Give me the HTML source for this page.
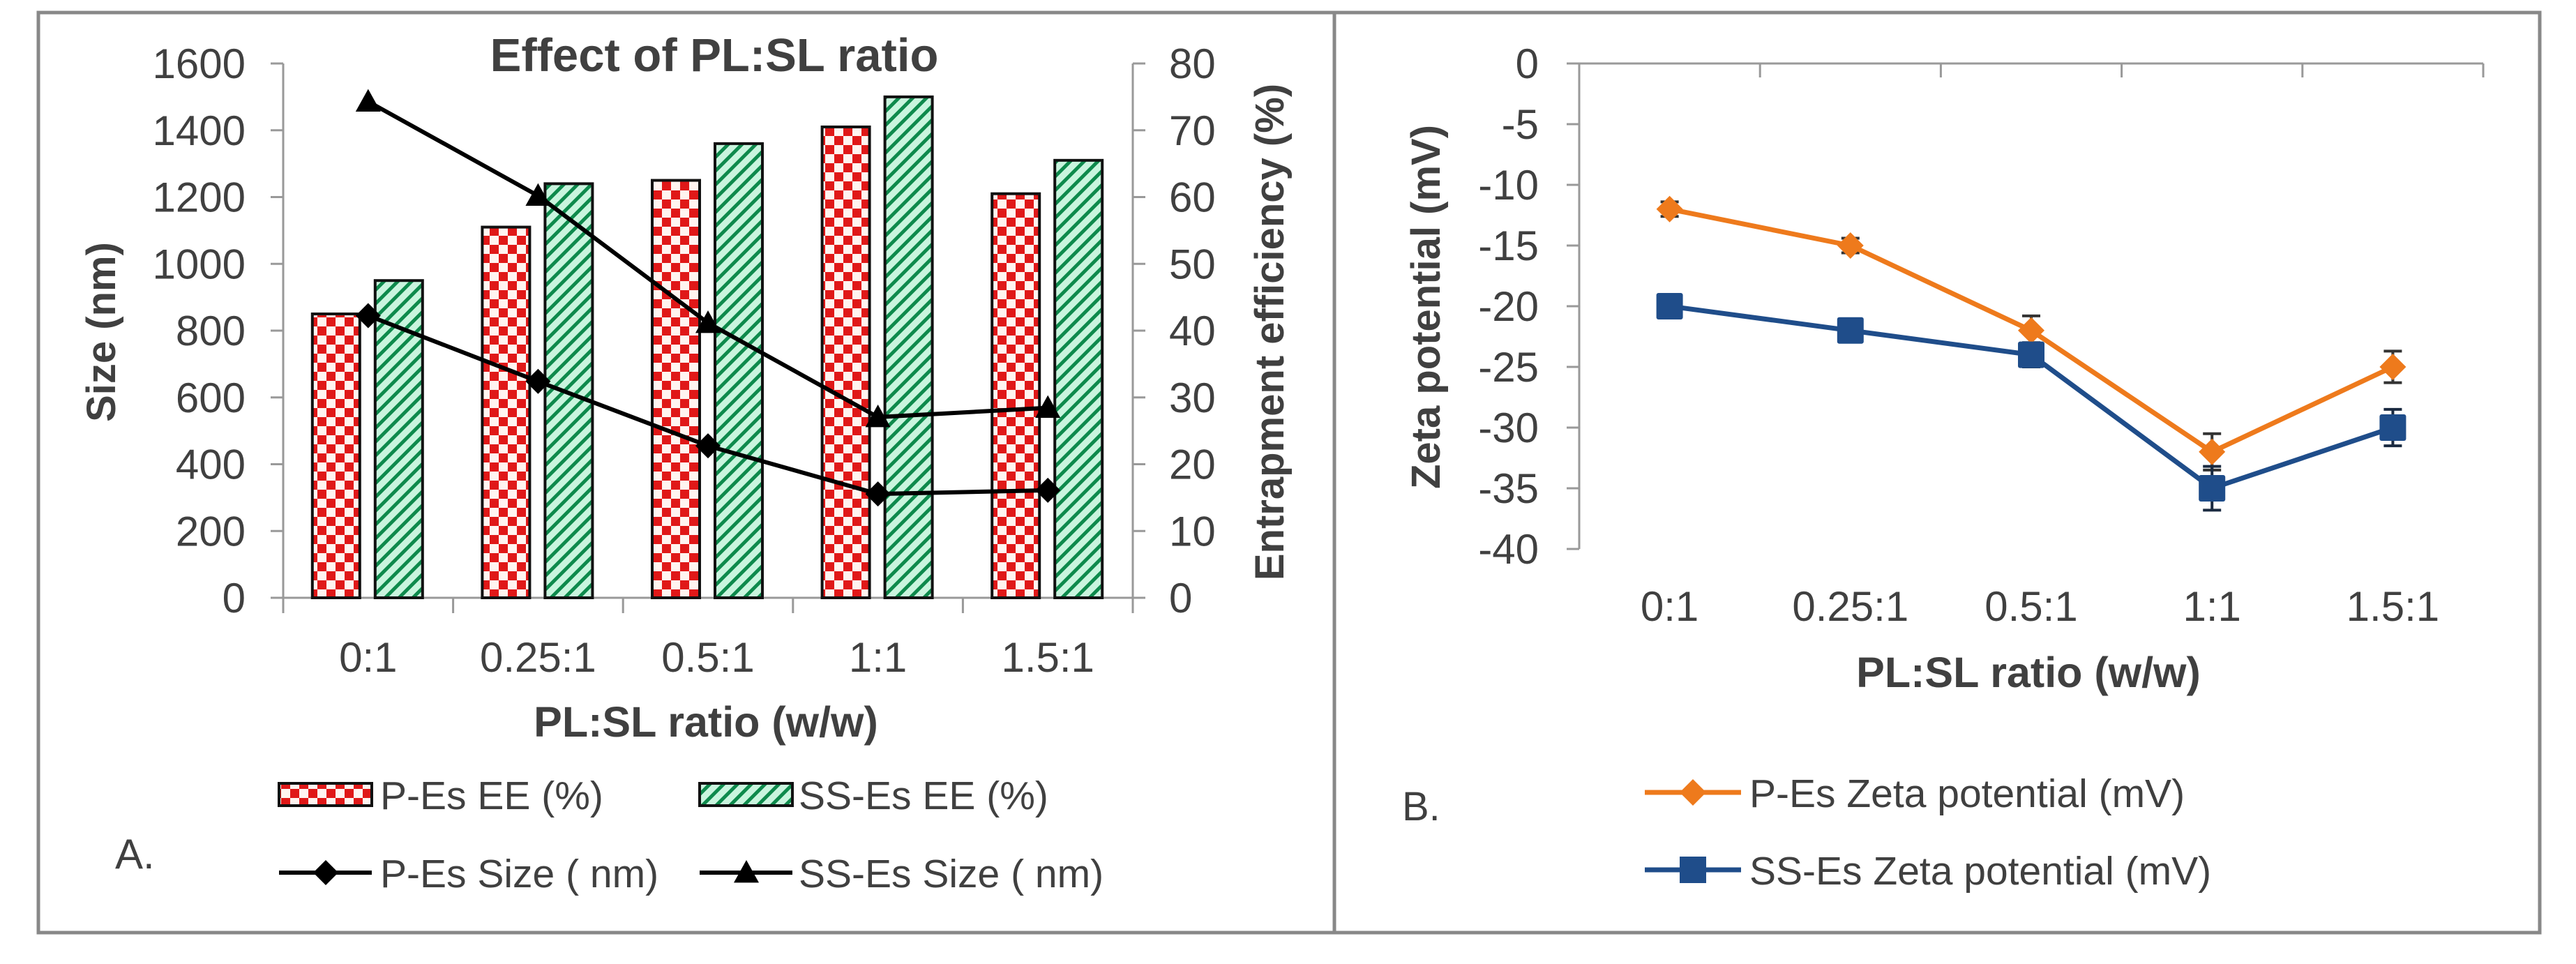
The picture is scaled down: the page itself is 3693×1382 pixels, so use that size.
<!DOCTYPE html>
<html><head><meta charset="utf-8">
<style>
html,body{margin:0;padding:0;background:#fff;}
svg{display:block;}
text{font-family:"Liberation Sans",sans-serif;fill:#404040;}
</style></head>
<body>
<svg id="fig" width="3693" height="1382" viewBox="0 0 3693 1382" xmlns="http://www.w3.org/2000/svg">
<defs>
<pattern id="checker" width="26" height="26" patternUnits="userSpaceOnUse">
<rect width="26" height="26" fill="#e01818"/>
<rect x="0" y="0" width="13" height="13" fill="#fff4f0"/>
<rect x="13" y="13" width="13" height="13" fill="#fff4f0"/>
</pattern>
<pattern id="hatch" width="14" height="14" patternUnits="userSpaceOnUse" patternTransform="rotate(45)">
<rect width="14" height="14" fill="#c9f5de"/>
<rect x="0" y="0" width="5" height="14" fill="#0e8a4c"/>
</pattern>
</defs>
<rect x="55" y="18" width="3586" height="1319" fill="none" stroke="#888" stroke-width="5"/>
<line x1="1913" y1="18" x2="1913" y2="1337" stroke="#888" stroke-width="5"/>
<g id="chartA"></g>
<g id="chartB"></g>
</svg>
<script>
const categories = ["0:1","0.25:1","0.5:1","1:1","1.5:1"];
const pEsEE = [42.5, 55.5, 62.5, 70.5, 60.5];
const ssEsEE = [47.5, 62, 68, 75, 65.5];
const pEsSize = [845, 648, 455, 311, 322];
const ssEsSize = [1486, 1204, 823, 541, 569];
const sizeTicks = [0,200,400,600,800,1000,1200,1400,1600];
const eeTicks = [0,10,20,30,40,50,60,70,80];
const pZeta = [-12, -15, -22, -32, -25];
const ssZeta = [-20, -22, -24, -35, -30];
const pZetaErr = [0.6, 0.6, 1.2, 1.5, 1.3];
const ssZetaErr = [0.6, 0.6, 1.0, 1.8, 1.5];
const zetaTicks = [0,-5,-10,-15,-20,-25,-30,-35,-40];

const NS = "http://www.w3.org/2000/svg";
function mk(parent, tag, attrs, text){
  const e = document.createElementNS(NS, tag);
  for (const k in attrs) e.setAttribute(k, attrs[k]);
  if (text !== undefined) e.textContent = text;
  parent.appendChild(e);
  return e;
}
const TK = 60, LG = 57;

// ---------- Chart A ----------
const A = document.getElementById('chartA');
const aL = 406, aR = 1624, aT = 91, aB = 857;
const aCW = (aR - aL) / categories.length;
const axC = i => aL + aCW * (i + 0.5);
const aySize = v => aB - (v / 1600) * (aB - aT);
const ayEE = v => aB - (v / 80) * (aB - aT);

let e;
e = mk(A,'text',{x:1024,y:102,'text-anchor':'middle','font-size':67,'font-weight':'bold',fill:'#222'},'Effect of PL:SL ratio');



e = mk(A,'line',{x1:aL,y1:aT,x2:aL,y2:aB,stroke:'#999','stroke-width':3});
 
e = mk(A,'line',{x1:aR,y1:aT,x2:aR,y2:aB,stroke:'#999','stroke-width':3});
 
e = mk(A,'line',{x1:aL,y1:aB,x2:aR,y2:aB,stroke:'#999','stroke-width':3});
 
for (let i=0;i<=categories.length;i++){
  const x = aL + aCW*i;
  e = mk(A,'line',{x1:x,y1:aB,x2:x,y2:aB+22,stroke:'#999','stroke-width':3});
   
}
sizeTicks.forEach(v=>{
  const y = aySize(v);
  e = mk(A,'line',{x1:aL-18,y1:y,x2:aL,y2:y,stroke:'#999','stroke-width':3});
   
  e = mk(A,'text',{x:352,y:y+21,'text-anchor':'end','font-size':TK},String(v));
   
});
eeTicks.forEach(v=>{
  const y = ayEE(v);
  e = mk(A,'line',{x1:aR,y1:y,x2:aR+18,y2:y,stroke:'#999','stroke-width':3});
   
  e = mk(A,'text',{x:1676,y:y+21,'text-anchor':'start','font-size':TK},String(v));
   
});
categories.forEach((c,i)=>{
  e = mk(A,'text',{x:axC(i),y:963,'text-anchor':'middle','font-size':TK},c);
   
});
e = mk(A,'text',{x:1012,y:1056,'text-anchor':'middle','font-size':61,'font-weight':'bold',fill:'#222'},'PL:SL ratio (w/w)');
 
e = mk(A,'text',{x:0,y:0,'text-anchor':'middle','font-size':58,'font-weight':'bold',fill:'#222',transform:'translate(165,476) rotate(-90)'},'Size (nm)');
 
e = mk(A,'text',{x:0,y:0,'text-anchor':'middle','font-size':58,'font-weight':'bold',fill:'#222',transform:'translate(1840,476) rotate(-90)'},'Entrapment efficiency (%)');
 

const bw = 68;
pEsEE.forEach((v,i)=>{
  const y = ayEE(v);
  e = mk(A,'rect',{x:axC(i)-80,y:y,width:bw,height:aB-y,fill:'url(#checker)',stroke:'#111','stroke-width':4});
   
});
ssEsEE.forEach((v,i)=>{
  const y = ayEE(v);
  e = mk(A,'rect',{x:axC(i)+10,y:y,width:bw,height:aB-y,fill:'url(#hatch)',stroke:'#111','stroke-width':4});
   
});
function poly(g, xs, ys, color, w){
  return mk(g,'polyline',{points:xs.map((x,i)=>x+','+ys[i]).join(' '),fill:'none',stroke:color,'stroke-width':w,'stroke-linejoin':'round'});
}
e = poly(A, pEsSize.map((v,i)=>axC(i)), pEsSize.map(aySize), '#000', 6);
 
e = poly(A, ssEsSize.map((v,i)=>axC(i)), ssEsSize.map(aySize), '#000', 6);
 
function diamond(g,x,y,r,fill){
  return mk(g,'polygon',{points:`${x},${y-r} ${x+r},${y} ${x},${y+r} ${x-r},${y}`,fill:fill});
}
function triangle(g,x,y,r,fill){
  return mk(g,'polygon',{points:`${x},${y-r} ${x+r},${y+r*0.8} ${x-r},${y+r*0.8}`,fill:fill});
}
pEsSize.forEach((v,i)=>{
  e = diamond(A, axC(i), aySize(v), 18, '#000');
   
});
ssEsSize.forEach((v,i)=>{
  e = triangle(A, axC(i), aySize(v), 18, '#000');
   
});
e = mk(A,'rect',{x:400,y:1123,width:133,height:32,fill:'url(#checker)',stroke:'#111','stroke-width':4});
 
e = mk(A,'text',{x:545,y:1160,'font-size':LG},'P-Es EE (%)');
 
e = mk(A,'rect',{x:1003,y:1123,width:133,height:32,fill:'url(#hatch)',stroke:'#111','stroke-width':4});
 
e = mk(A,'text',{x:1145,y:1160,'font-size':LG},'SS-Es EE (%)');
 
e = mk(A,'line',{x1:400,y1:1251,x2:533,y2:1251,stroke:'#000','stroke-width':6});
 
e = diamond(A,467,1251,18,'#000');
 
e = mk(A,'text',{x:545,y:1272,'font-size':LG},'P-Es Size ( nm)');
 
e = mk(A,'line',{x1:1003,y1:1251,x2:1136,y2:1251,stroke:'#000','stroke-width':6});
 
e = triangle(A,1070,1251,18,'#000');
 
e = mk(A,'text',{x:1145,y:1272,'font-size':LG},'SS-Es Size ( nm)');
 
e = mk(A,'text',{x:165,y:1245,'font-size':60,'font-family':'Liberation Serif, serif',fill:'#222'},'A.');
 

// ---------- Chart B ----------
const B = document.getElementById('chartB');
const bL = 2264, bR = 3560, bT = 91, bB = 787;
const bCW = (bR - bL) / categories.length;
const bxC = i => bL + bCW * (i + 0.5);
const byZ = v => bT + (-v / 40) * (bB - bT);

e = mk(B,'line',{x1:bL,y1:bT,x2:bL,y2:bB,stroke:'#999','stroke-width':3});
 
e = mk(B,'line',{x1:bL,y1:bT,x2:bR,y2:bT,stroke:'#999','stroke-width':3});
 
for (let i=0;i<=categories.length;i++){
  const x = bL + bCW*i;
  e = mk(B,'line',{x1:x,y1:bT,x2:x,y2:bT+20,stroke:'#999','stroke-width':3});
   
}
zetaTicks.forEach(v=>{
  const y = byZ(v);
  e = mk(B,'line',{x1:bL-18,y1:y,x2:bL,y2:y,stroke:'#999','stroke-width':3});
   
  e = mk(B,'text',{x:2206,y:y+21,'text-anchor':'end','font-size':TK},String(v));
   
});
categories.forEach((c,i)=>{
  e = mk(B,'text',{x:bxC(i),y:890,'text-anchor':'middle','font-size':TK},c);
   
});
e = mk(B,'text',{x:2908,y:985,'text-anchor':'middle','font-size':61,'font-weight':'bold',fill:'#222'},'PL:SL ratio (w/w)');
 
e = mk(B,'text',{x:0,y:0,'text-anchor':'middle','font-size':58,'font-weight':'bold',fill:'#222',transform:'translate(2064,440) rotate(-90)'},'Zeta potential (mV)');
 

const orange = '#ee7a1c', blue = '#1f4d8a';
function errBars(g, vals, errs, color, name){
  vals.forEach((v,i)=>{
    const x = bxC(i), y1 = byZ(v+errs[i]), y2 = byZ(v-errs[i]);
    e = mk(g,'path',{d:`M${x},${y1}V${y2}M${x-13},${y1}H${x+13}M${x-13},${y2}H${x+13}`,stroke:color,'stroke-width':4,fill:'none'});
     
  });
}
errBars(B, pZeta, pZetaErr, '#333', 'error-bar-p-es');
errBars(B, ssZeta, ssZetaErr, '#1a2a40', 'error-bar-ss-es');
e = poly(B, pZeta.map((v,i)=>bxC(i)), pZeta.map(byZ), orange, 7);
 
e = poly(B, ssZeta.map((v,i)=>bxC(i)), ssZeta.map(byZ), blue, 7);
 
pZeta.forEach((v,i)=>{
  e = diamond(B, bxC(i), byZ(v), 19, orange);
   
});
ssZeta.forEach((v,i)=>{
  e = mk(B,'rect',{x:bxC(i)-19,y:byZ(v)-19,width:38,height:38,fill:blue,rx:3});
   
});
e = mk(B,'line',{x1:2358,y1:1136,x2:2496,y2:1136,stroke:orange,'stroke-width':7});
 
e = diamond(B,2427,1136,19,orange);
 
e = mk(B,'text',{x:2508,y:1157,'font-size':LG},'P-Es Zeta potential  (mV)');
 
e = mk(B,'line',{x1:2358,y1:1247,x2:2496,y2:1247,stroke:blue,'stroke-width':7});
 
e = mk(B,'rect',{x:2408,y:1228,width:38,height:38,fill:blue});
 
e = mk(B,'text',{x:2508,y:1268,'font-size':LG},'SS-Es Zeta potential (mV)');
 
e = mk(B,'text',{x:2010,y:1176,'font-size':58,fill:'#222'},'B.');
 
</script>
</body></html>
